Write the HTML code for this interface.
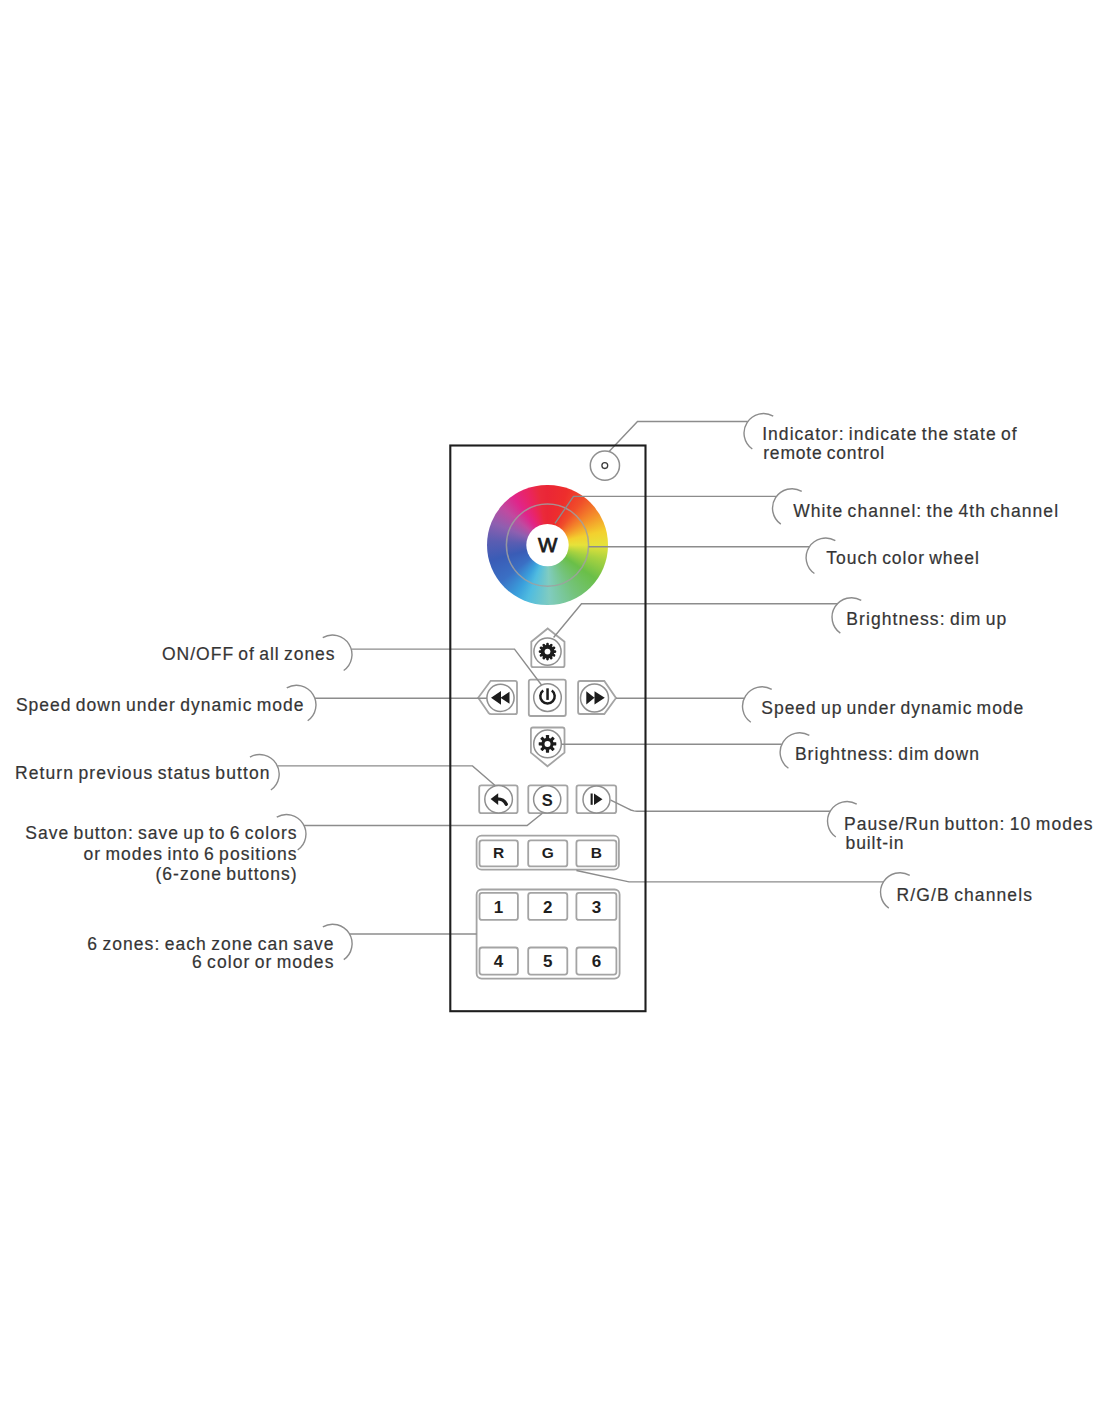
<!DOCTYPE html>
<html><head><meta charset="utf-8">
<style>
html,body{margin:0;padding:0;background:#fff;}
body{width:1100px;height:1422px;position:relative;overflow:hidden;}
svg{position:absolute;left:0;top:0;}
text{font-family:"Liberation Sans",sans-serif;font-size:17.5px;fill:#353535;letter-spacing:1.05px;stroke:#353535;stroke-width:0.2px;word-spacing:-1.6px;}
text.bold{font-weight:bold;font-size:15px;fill:#1e1e1e;stroke:none;letter-spacing:0;}
.ln{fill:none;stroke:#8c8c8c;stroke-width:1.4;}
.btn{fill:none;stroke:#a4a4a4;stroke-width:1.8;}
.cir{fill:#fff;stroke:#8f8f8f;stroke-width:1.5;}
#wheel{position:absolute;left:487.3px;top:484.9px;width:120.4px;height:120.4px;border-radius:50%;
background:conic-gradient(from 0deg,#ea2636 0deg,#ee2e2c 20deg,#f04e2a 38deg,#f4902a 58deg,#f3d02e 76deg,#e6e23a 90deg,#a8d240 105deg,#6abf48 125deg,#74c37a 150deg,#80ccc0 178deg,#50bce0 200deg,#3aa0dc 212deg,#3a6fc4 232deg,#3a5cb6 255deg,#5a5db2 274deg,#8e5fb0 292deg,#c04aa0 310deg,#e0258a 325deg,#ea2460 340deg,#ea2a3a 352deg,#ea2636 360deg);
filter:blur(0.6px);}
</style></head><body>
<div id="wheel"></div>
<svg width="1100" height="1422" viewBox="0 0 1100 1422">
<circle cx="547.5" cy="545.1" r="21.2" fill="#fff"/>
<circle cx="547.5" cy="545.1" r="41.1" fill="none" stroke="#a0a0a0" stroke-opacity="0.85" stroke-width="1.5"/>
<text x="547.6" y="551.7" text-anchor="middle" style="font-size:20.5px;letter-spacing:0;fill:#1a1a1a;stroke:#1a1a1a;stroke-width:0.75px">W</text>

<!-- indicator -->
<circle cx="604.9" cy="465.6" r="14.6" class="cir"/>
<circle cx="604.8" cy="465.6" r="2.9" fill="none" stroke="#3a3a3a" stroke-width="1.3"/>
<!-- bright up pentagon -->
<path d="M547.7,628.5 L564.5,641.8 L564.5,665.2 Q564.5,667.2 562.5,667.2 L533.3,667.2 Q531.3,667.2 531.3,665.2 L531.3,641.8 Z" class="btn"/>
<circle cx="547.5" cy="651.6" r="13.6" class="cir"/>
<circle cx="547.5" cy="651.6" r="6.9" fill="#1c1c1c"/>
<rect x="546.2" y="642.8000000000001" width="2.6" height="3.4000000000000004" rx="1.1" fill="#1c1c1c" transform="rotate(0.0 547.5 651.6)"/>
<rect x="546.2" y="642.8000000000001" width="2.6" height="3.4000000000000004" rx="1.1" fill="#1c1c1c" transform="rotate(30.0 547.5 651.6)"/>
<rect x="546.2" y="642.8000000000001" width="2.6" height="3.4000000000000004" rx="1.1" fill="#1c1c1c" transform="rotate(60.0 547.5 651.6)"/>
<rect x="546.2" y="642.8000000000001" width="2.6" height="3.4000000000000004" rx="1.1" fill="#1c1c1c" transform="rotate(90.0 547.5 651.6)"/>
<rect x="546.2" y="642.8000000000001" width="2.6" height="3.4000000000000004" rx="1.1" fill="#1c1c1c" transform="rotate(120.0 547.5 651.6)"/>
<rect x="546.2" y="642.8000000000001" width="2.6" height="3.4000000000000004" rx="1.1" fill="#1c1c1c" transform="rotate(150.0 547.5 651.6)"/>
<rect x="546.2" y="642.8000000000001" width="2.6" height="3.4000000000000004" rx="1.1" fill="#1c1c1c" transform="rotate(180.0 547.5 651.6)"/>
<rect x="546.2" y="642.8000000000001" width="2.6" height="3.4000000000000004" rx="1.1" fill="#1c1c1c" transform="rotate(210.0 547.5 651.6)"/>
<rect x="546.2" y="642.8000000000001" width="2.6" height="3.4000000000000004" rx="1.1" fill="#1c1c1c" transform="rotate(240.0 547.5 651.6)"/>
<rect x="546.2" y="642.8000000000001" width="2.6" height="3.4000000000000004" rx="1.1" fill="#1c1c1c" transform="rotate(270.0 547.5 651.6)"/>
<rect x="546.2" y="642.8000000000001" width="2.6" height="3.4000000000000004" rx="1.1" fill="#1c1c1c" transform="rotate(300.0 547.5 651.6)"/>
<rect x="546.2" y="642.8000000000001" width="2.6" height="3.4000000000000004" rx="1.1" fill="#1c1c1c" transform="rotate(330.0 547.5 651.6)"/>
<circle cx="547.5" cy="651.6" r="2.9" fill="#fff"/>
<!-- power -->
<rect x="528.8" y="679.6" width="37" height="36.4" rx="2" class="btn"/>
<circle cx="547.5" cy="697.6" r="13.8" class="cir"/>
<path d="M543.2,690.6 A7.2,7.2 0 1 0 551.8,690.6" fill="none" stroke="#1c1c1c" stroke-width="2.5" stroke-linecap="butt"/>
<rect x="546.3" y="688.3" width="2.5" height="11.6" fill="#1c1c1c"/>
<!-- rewind -->
<path d="M478.2,697.8 L490.7,680.8 L515,680.8 Q517,680.8 517,682.8 L517,712.2 Q517,714.2 515,714.2 L491.5,714.2 Q489.5,714.2 488.3,712.6 Z" class="btn"/>
<circle cx="500.5" cy="697.8" r="13.6" class="cir"/>
<path d="M491,697.8 L501,690.9 L501,704.7 Z M500.5,697.8 L509.5,691.8 L509.5,703.8 Z" fill="#1c1c1c"/>
<!-- ff -->
<path d="M616,698 L604.3,714 L580.1,714 Q578.1,714 578.1,712 L578.1,683 Q578.1,681 580.1,681 L604.3,681 Z" class="btn"/>
<circle cx="594.5" cy="698" r="14" class="cir"/>
<path d="M586.3,691.3 L594.5,697.8 L586.3,704.4 Z M594.5,691.3 L604.8,697.8 L594.5,704.4 Z" fill="#1c1c1c"/>
<!-- bright down -->
<path d="M547.5,766.3 L564.5,752.6 L564.5,729.5 Q564.5,727.5 562.5,727.5 L532.9,727.5 Q530.9,727.5 530.9,729.5 L530.9,752.6 Z" class="btn"/>
<circle cx="547.5" cy="743.9" r="13.8" class="cir"/>
<circle cx="547.5" cy="743.9" r="6.1" fill="#1c1c1c"/>
<rect x="545.9" y="735.1" width="3.2" height="4.200000000000001" rx="0.4" fill="#1c1c1c" transform="rotate(0.0 547.5 743.9)"/>
<rect x="545.9" y="735.1" width="3.2" height="4.200000000000001" rx="0.4" fill="#1c1c1c" transform="rotate(45.0 547.5 743.9)"/>
<rect x="545.9" y="735.1" width="3.2" height="4.200000000000001" rx="0.4" fill="#1c1c1c" transform="rotate(90.0 547.5 743.9)"/>
<rect x="545.9" y="735.1" width="3.2" height="4.200000000000001" rx="0.4" fill="#1c1c1c" transform="rotate(135.0 547.5 743.9)"/>
<rect x="545.9" y="735.1" width="3.2" height="4.200000000000001" rx="0.4" fill="#1c1c1c" transform="rotate(180.0 547.5 743.9)"/>
<rect x="545.9" y="735.1" width="3.2" height="4.200000000000001" rx="0.4" fill="#1c1c1c" transform="rotate(225.0 547.5 743.9)"/>
<rect x="545.9" y="735.1" width="3.2" height="4.200000000000001" rx="0.4" fill="#1c1c1c" transform="rotate(270.0 547.5 743.9)"/>
<rect x="545.9" y="735.1" width="3.2" height="4.200000000000001" rx="0.4" fill="#1c1c1c" transform="rotate(315.0 547.5 743.9)"/>
<circle cx="547.5" cy="743.9" r="3.0" fill="#fff"/>
<!-- return -->
<rect x="479.2" y="785.4" width="38.4" height="27.8" rx="2.2" class="btn"/>
<circle cx="498.6" cy="799.3" r="13.8" class="cir"/>
<path d="M490.6,799 L498.2,793.2 L498.2,804.9 Z" fill="#1c1c1c"/>
<path d="M496.5,798.9 Q503.6,798.6 506.3,804.2" fill="none" stroke="#1c1c1c" stroke-width="3.4" stroke-linecap="round"/>
<!-- S -->
<rect x="528.3" y="785.4" width="39.2" height="27.8" rx="2.2" class="btn"/>
<circle cx="547.2" cy="799.3" r="13.6" class="cir"/>
<text x="547.3" y="805.5" class="bold" text-anchor="middle" style="font-size:16.5px">S</text>
<!-- pause/run -->
<rect x="576.5" y="785.3" width="39.7" height="27.9" rx="2.2" class="btn"/>
<circle cx="596.5" cy="799.4" r="13.5" class="cir"/>
<rect x="590.6" y="793.5" width="2.1" height="11.3" fill="#1c1c1c"/>
<path d="M594,793.5 L602.5,799.2 L594,804.9 Z" fill="#1c1c1c"/>
<!-- RGB group -->
<rect x="476.6" y="835.7" width="142.3" height="34" rx="5" class="btn"/>
<rect x="479.5" y="840.4" width="38.4" height="26" rx="2.5" class="btn"/>
<rect x="528.2" y="840.4" width="39.1" height="26" rx="2.5" class="btn"/>
<rect x="576.4" y="840.4" width="40" height="26" rx="2.5" class="btn"/>
<text x="498.6" y="858.3" class="bold" style="font-size:15.5px" text-anchor="middle">R</text>
<text x="547.8" y="858.3" class="bold" style="font-size:15.5px" text-anchor="middle">G</text>
<text x="596.4" y="858.3" class="bold" style="font-size:15.5px" text-anchor="middle">B</text>
<!-- number group -->
<rect x="476.6" y="889.5" width="143" height="89.1" rx="5" class="btn"/>
<rect x="479.5" y="892.8" width="38.4" height="27.1" rx="2.5" class="btn"/>
<rect x="528.2" y="892.8" width="39.1" height="27.1" rx="2.5" class="btn"/>
<rect x="576.4" y="892.8" width="40" height="27.1" rx="2.5" class="btn"/>
<rect x="479.5" y="947.5" width="38.4" height="27.1" rx="2.5" class="btn"/>
<rect x="528.2" y="947.5" width="39.1" height="27.1" rx="2.5" class="btn"/>
<rect x="576.4" y="947.5" width="40" height="27.1" rx="2.5" class="btn"/>
<text x="498.6" y="913" class="bold" style="font-size:17px" text-anchor="middle">1</text>
<text x="547.8" y="913" class="bold" style="font-size:17px" text-anchor="middle">2</text>
<text x="596.4" y="913" class="bold" style="font-size:17px" text-anchor="middle">3</text>
<text x="498.6" y="967.2" class="bold" style="font-size:17px" text-anchor="middle">4</text>
<text x="547.8" y="967.2" class="bold" style="font-size:17px" text-anchor="middle">5</text>
<text x="596.4" y="967.2" class="bold" style="font-size:17px" text-anchor="middle">6</text>

<polyline points="609.10,451.50 637.50,421.50 747.75,421.50" class="ln"/>
<path d="M773.25,416.11 A19.5,19.5 0 0 0 752.32,448.97" class="ln"/>
<text x="762.20" y="439.8" style="letter-spacing:1.04px">Indicator: indicate the state of</text>
<text x="763.20" y="458.9" style="letter-spacing:0.827px">remote control</text>
<polyline points="555.00,523.40 573.50,496.40 776.48,496.40" class="ln"/>
<path d="M801.75,491.31 A19.5,19.5 0 0 0 780.82,524.17" class="ln"/>
<text x="793.20" y="516.8" style="letter-spacing:1.067px">White channel: the 4th channel</text>
<polyline points="588.60,546.70 809.36,546.70" class="ln"/>
<path d="M835.35,540.61 A19.5,19.5 0 0 0 814.42,573.47" class="ln"/>
<text x="826.30" y="563.7" style="letter-spacing:0.981px">Touch color wheel</text>
<polyline points="553.60,637.50 581.50,603.70 837.43,603.70" class="ln"/>
<path d="M861.25,600.31 A19.5,19.5 0 0 0 840.32,633.17" class="ln"/>
<text x="846.30" y="624.5" style="letter-spacing:1.068px">Brightness: dim up</text>
<polyline points="616.00,698.20 744.26,698.20" class="ln"/>
<path d="M771.75,689.41 A19.5,19.5 0 0 0 750.82,722.27" class="ln"/>
<text x="761.30" y="714.1" style="letter-spacing:0.969px">Speed up under dynamic mode</text>
<polyline points="561.50,744.20 781.86,744.20" class="ln"/>
<path d="M809.35,735.41 A19.5,19.5 0 0 0 788.42,768.27" class="ln"/>
<text x="794.90" y="759.6" style="letter-spacing:1.055px">Brightness: dim down</text>
<polyline points="610.70,800.10 627.50,808.40 630.80,810.00 633.80,810.90 637.00,811.20 830.14,811.20" class="ln"/>
<path d="M856.75,804.11 A19.5,19.5 0 0 0 835.82,836.97" class="ln"/>
<text x="844.00" y="829.8" style="letter-spacing:1.066px">Pause/Run button: 10 modes</text>
<text x="845.50" y="848.9" style="letter-spacing:0.921px">built-in</text>
<polyline points="576.40,870.50 629.00,881.90 883.44,881.90" class="ln"/>
<path d="M909.75,875.31 A19.5,19.5 0 0 0 888.82,908.17" class="ln"/>
<text x="896.60" y="900.5" style="letter-spacing:1.104px">R/G/B channels</text>
<polyline points="541.50,685.00 514.50,649.10 351.24,649.10" class="ln"/>
<path d="M322.75,637.61 A19.5,19.5 0 0 1 343.68,670.47" class="ln"/>
<text x="162.00" y="660.4" style="letter-spacing:0.994px">ON/OFF of all zones</text>
<polyline points="487.00,698.20 314.85,698.20" class="ln"/>
<path d="M286.75,687.91 A19.5,19.5 0 0 1 307.68,720.77" class="ln"/>
<text x="15.90" y="711" style="letter-spacing:1.018px">Speed down under dynamic mode</text>
<polyline points="494.80,785.20 472.50,765.90 277.44,765.90" class="ln"/>
<path d="M249.95,757.11 A19.5,19.5 0 0 1 270.88,789.97" class="ln"/>
<text x="15.00" y="779.3" style="letter-spacing:1.096px">Return previous status button</text>
<polyline points="542.40,813.20 527.10,825.50 304.05,825.50" class="ln"/>
<path d="M276.75,817.11 A19.5,19.5 0 0 1 297.68,849.97" class="ln"/>
<text x="25.30" y="839.4" style="letter-spacing:0.992px">Save button: save up to 6 colors</text>
<text x="83.50" y="859.9" style="letter-spacing:1.033px">or modes into 6 positions</text>
<text x="155.50" y="880.2" style="letter-spacing:1.023px">(6-zone buttons)</text>
<polyline points="476.70,934.00 349.52,934.00" class="ln"/>
<path d="M322.85,926.81 A19.5,19.5 0 0 1 343.78,959.67" class="ln"/>
<text x="87.30" y="949.5" style="letter-spacing:1.058px">6 zones: each zone can save</text>
<text x="192.00" y="968.1" style="letter-spacing:1.057px">6 color or modes</text>
<rect x="450.3" y="445.5" width="195.2" height="565.7" fill="none" stroke="#1e1e1e" stroke-width="2.1"/>
</svg>
</body></html>
